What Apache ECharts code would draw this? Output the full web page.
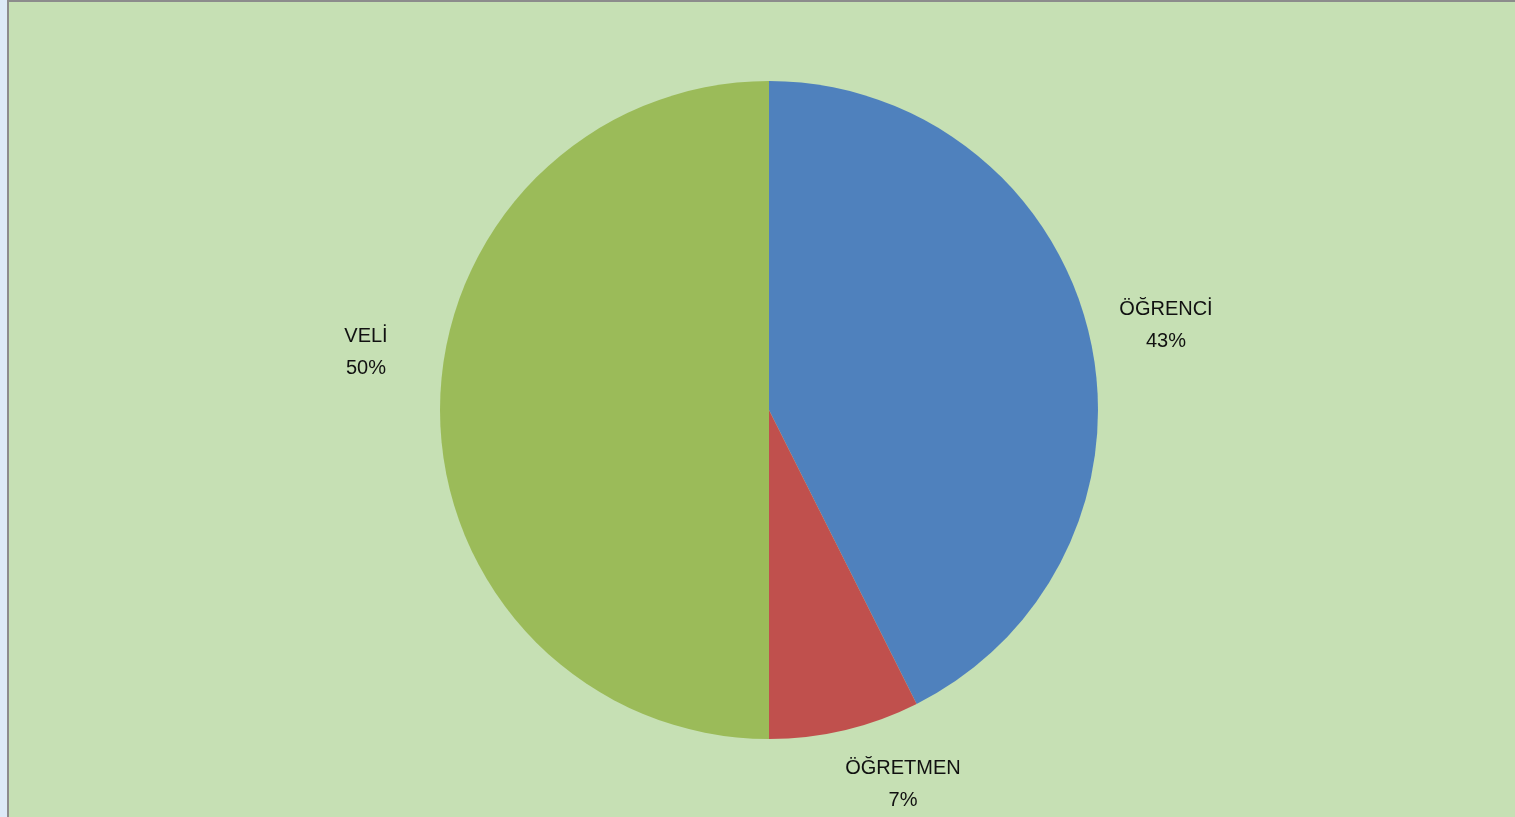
<!DOCTYPE html>
<html>
<head>
<meta charset="utf-8">
<script src="https://cdn.jsdelivr.net/npm/echarts@6/dist/echarts.min.js"></script>
<style>
  html, body { margin: 0; padding: 0; width: 100%; height: 100%; overflow: hidden; background: #DDEAF7; }
  #bg { position: absolute; left: 7px; top: 0; width: 1530px; height: 840px; background: #C6E0B4; border: 2px solid #8C8C8C; box-sizing: border-box; }
  #chart { position: absolute; left: 0; top: 0; width: 1515px; height: 817px; }
</style>
</head>
<body>
<div id="bg"></div>
<div id="chart"></div>
<script>
const categories = ['ÖĞRENCİ', 'ÖĞRETMEN', 'VELİ'];
const values = [23, 4, 27];
const colors = ['#4F81BD', '#C0504D', '#9BBB59'];

const labelPos = {
  'ÖĞRENCİ': [1166, 325],
  'ÖĞRETMEN': [903, 784],
  'VELİ': [366, 352]
};

const chart = echarts.init(document.getElementById('chart'), null, { renderer: 'canvas' });
chart.setOption({
  backgroundColor: 'transparent',
  animation: false,
  series: [{
    type: 'pie',
    center: [769, 410],
    radius: 329,
    startAngle: 90,
    clockwise: true,
    percentPrecision: 0,
    data: categories.map((c, i) => ({ name: c, value: values[i], itemStyle: { color: colors[i] } })),
    label: {
      show: true,
      position: 'outside',
      formatter: '{b}\n{d}%',
      fontFamily: 'Liberation Sans, Arial, sans-serif',
      fontSize: 20,
      lineHeight: 32,
      color: '#111111'
    },
    labelLine: { show: false },
    labelLayout: function (p) {
      const pos = labelPos[categories[p.dataIndex]];
      return { x: pos[0], y: pos[1], align: 'center', verticalAlign: 'middle' };
    },
    emphasis: { disabled: true }
  }]
});
</script>
</body>
</html>
